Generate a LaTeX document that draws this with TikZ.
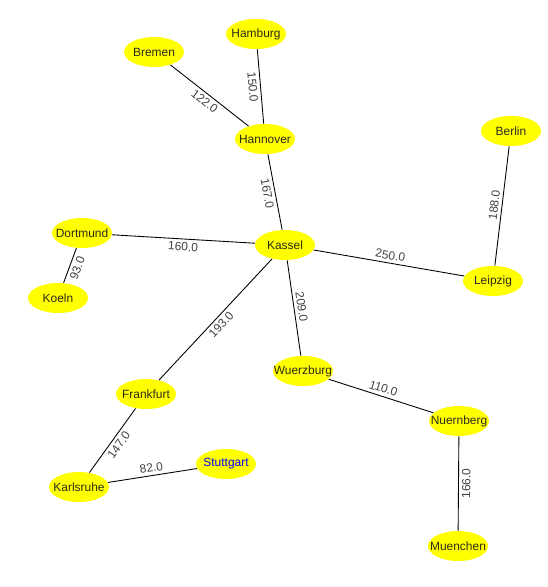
\documentclass[tikz,border=0pt]{standalone}
\usepackage{fontspec}
\setmainfont{Liberation Sans}
\usetikzlibrary{shapes.geometric}
\definecolor{cityfill}{HTML}{FFFF00}
\definecolor{cityink}{HTML}{2B2B1A}
\definecolor{pickink}{HTML}{0000FF}
\definecolor{distink}{HTML}{404040}
\newcommand{\town}[1]{\makebox[0pt]{#1}}
\tikzset{
  city/.style={ellipse, fill=cityfill, minimum width=1.2cm, minimum height=0.6cm, inner sep=0pt, text=cityink, font=\fontsize{6.8}{8}\selectfont},
  picked/.style={city, text=pickink},
  road/.style={draw=black, line width=0.5pt},
  dist/.style={font=\fontsize{6.8}{8}\selectfont, text=distink, sloped, inner sep=1pt, outer sep=1pt},
}

\begin{document}
\begin{tikzpicture}[x=0.02cm, y=-0.02cm]
  \useasboundingbox (0,0) rectangle (547,587);
  \node[city] (hamburg) at (256,34) {\town{Hamburg}};
  \node[city] (bremen) at (154,52) {\town{Bremen}};
  \node[city] (hannover) at (265,139) {\town{Hannover}};
  \node[city] (berlin) at (511,131) {\town{Berlin}};
  \node[city] (dortmund) at (82,233) {\town{Dortmund}};
  \node[city] (kassel) at (285,245) {\town{Kassel}};
  \node[city] (leipzig) at (493,281) {\town{Leipzig}};
  \node[city] (koeln) at (58,298) {\town{Koeln}};
  \node[city] (wuerzburg) at (303,371) {\town{Wuerzburg}};
  \node[city] (frankfurt) at (146,394) {\town{Frankfurt}};
  \node[city] (nuernberg) at (459,421) {\town{Nuernberg}};
  \node[picked] (stuttgart) at (226,464) {\town{Stuttgart}};
  \node[city] (karlsruhe) at (79,487) {\town{Karlsruhe}};
  \node[city] (muenchen) at (458,546) {\town{Muenchen}};

  \draw[road] (bremen) -- node[dist, below] {122.0} (hannover);
  \draw[road] (hamburg) -- node[dist, below] {150.0} (hannover);
  \draw[road] (hannover) -- node[dist, below] {167.0} (kassel);
  \draw[road] (dortmund) -- node[dist, below] {160.0} (kassel);
  \draw[road] (dortmund) -- node[dist, below] {93.0} (koeln);
  \draw[road] (kassel) -- node[dist, above] {250.0} (leipzig);
  \draw[road] (leipzig) -- node[dist, above] {188.0} (berlin);
  \draw[road] (kassel) -- node[dist, above] {209.0} (wuerzburg);
  \draw[road] (kassel) -- node[dist, below] {193.0} (frankfurt);
  \draw[road] (wuerzburg) -- node[dist, above] {110.0} (nuernberg);
  \draw[road] (nuernberg) -- node[dist, below] {166.0} (muenchen);
  \draw[road] (frankfurt) -- node[dist, below] {147.0} (karlsruhe);
  \draw[road] (karlsruhe) -- node[dist, above] {82.0} (stuttgart);
\end{tikzpicture}
\end{document}
